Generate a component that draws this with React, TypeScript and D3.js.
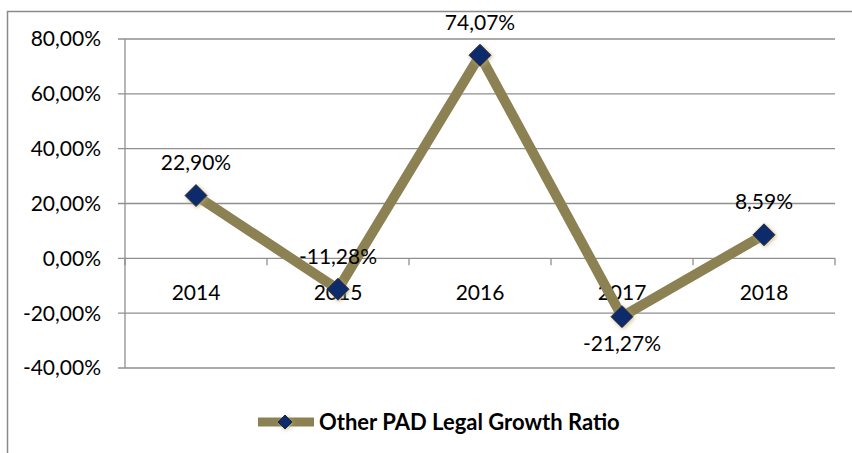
import React from 'react';
import * as d3 from 'd3';

const years = ['2014', '2015', '2016', '2017', '2018'];
const growth = [22.9, -11.28, 74.07, -21.27, 8.59];
const labelBelow = [false, false, false, true, false];
const yTicks = [-40, -20, 0, 20, 40, 60, 80];
const seriesName = 'Other PAD Legal Growth Ratio';

const W = 852;
const H = 453;
const left = 125;
const right = 835;
const font = 'Lato, "Open Sans", sans-serif';
const lineColor = '#8c8152';
const markerColor = '#0b2a6b';
const gridColor = '#8f8f8f';

const fmt = (v: number) => v.toFixed(2).replace('.', ',') + '%';

export default function App() {
  const x = d3.scaleBand<string>().domain(years).range([left, right]).padding(0);
  const y = d3.scaleLinear().domain([-40, 80]).range([368, 39]);

  const line = d3.line<number>()
    .x((d, i) => (x(years[i]) as number) + x.bandwidth() / 2)
    .y(d => y(d));

  const diamond = (cx: number, cy: number, r: number) =>
    `M${cx},${cy - r}L${cx + r},${cy}L${cx},${cy + r}L${cx - r},${cy}Z`;

  const y0 = y(0);
  const edges = years.map(yr => x(yr) as number).concat([right]);

  return (
    <svg width={W} height={H} style={{ position: 'absolute', left: 0, top: 0, display: 'block', background: '#fff' }}>
      <defs>
        <filter id="glow" x="-50%" y="-50%" width="200%" height="200%">
          <feGaussianBlur in="SourceAlpha" stdDeviation="2" result="b" />
          <feFlood floodColor="#b9a96a" floodOpacity="0.8" />
          <feComposite in2="b" operator="in" result="s" />
          <feOffset dx="1" dy="1" result="o" />
          <feMerge>
            <feMergeNode in="o" />
            <feMergeNode in="SourceGraphic" />
          </feMerge>
        </filter>
      </defs>

      {/* outer chart frame (only left and top edges visible) */}
      <path d={`M7.5,${H + 5}V11.5H${W + 5}`} fill="none" stroke="#8a8a8a" strokeWidth={1.5} />

      {/* gridlines */}
      {yTicks.map(t => (
        <g key={t}>
          <line x1={118} x2={right} y1={y(t)} y2={y(t)} stroke={gridColor} strokeWidth={1.3} />
          <text x={101} y={y(t)} dy="0.35em" textAnchor="end" fontFamily={font} fontSize={21} fill="#000">
            {fmt(t)}
          </text>
        </g>
      ))}

      {/* value axis */}
      <line x1={left} x2={left} y1={y(80)} y2={y(-40)} stroke={gridColor} strokeWidth={1.3} />

      {/* category axis ticks */}
      {edges.map((ex, i) => (
        <line key={i} x1={ex} x2={ex} y1={y0} y2={y0 + 7} stroke={gridColor} strokeWidth={1.3} />
      ))}
      {years.map(yr => (
        <text key={yr} x={(x(yr) as number) + x.bandwidth() / 2} y={y0 + 34} dy="0.35em" textAnchor="middle"
          fontFamily={font} fontSize={21} fill="#000">
          {yr}
        </text>
      ))}

      {/* series */}
      <path d={line(growth) || ''} fill="none" stroke={lineColor} strokeWidth={10} strokeLinejoin="miter" />
      {growth.map((v, i) => {
        const cx = (x(years[i]) as number) + x.bandwidth() / 2;
        return (
          <path key={i} d={diamond(cx, y(v), 11)} fill={markerColor} stroke="#1a2240" strokeWidth={1}
            filter="url(#glow)" />
        );
      })}
      {growth.map((v, i) => {
        const cx = (x(years[i]) as number) + x.bandwidth() / 2;
        return (
          <text key={i} x={cx} y={y(v) + (labelBelow[i] ? 27 : -33)} dy="0.35em" textAnchor="middle"
            fontFamily={font} fontSize={21} fill="#000">
            {fmt(v)}
          </text>
        );
      })}

      {/* legend */}
      <line x1={258} x2={314} y1={422} y2={422} stroke={lineColor} strokeWidth={9} />
      <path d={diamond(285, 422, 7)} fill={markerColor} stroke="#1a2240" strokeWidth={1} filter="url(#glow)" />
      <text x={319} y={422} dy="0.35em" fontFamily={font} fontSize={22} fontWeight="bold" fill="#000">
        {seriesName}
      </text>
    </svg>
  );
}
